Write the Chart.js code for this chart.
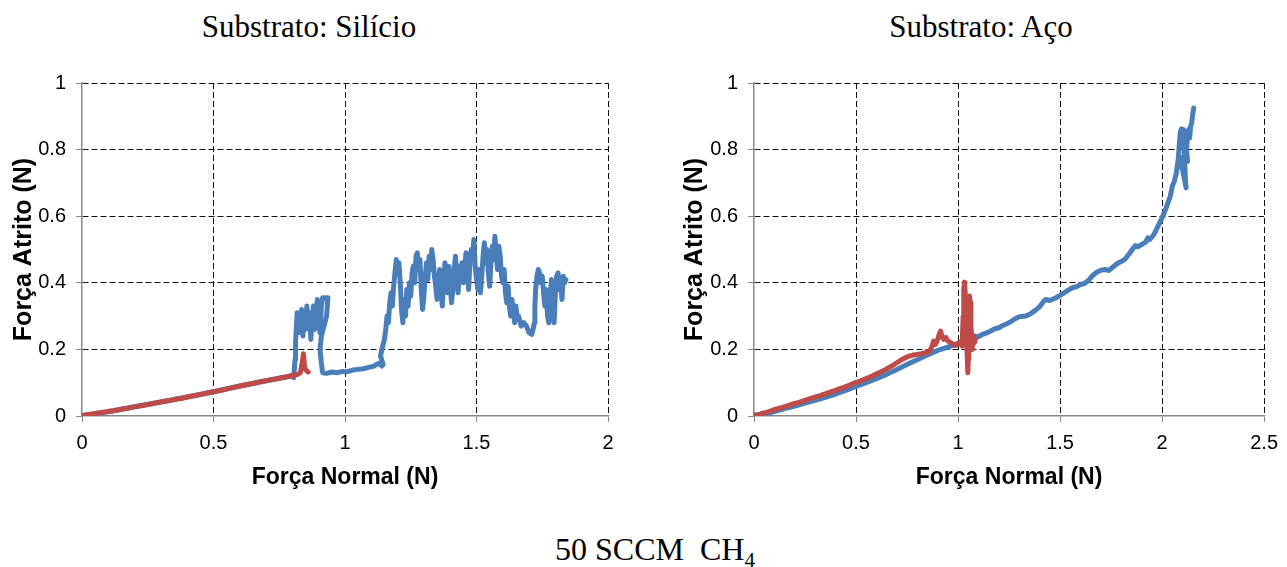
<!DOCTYPE html>
<html lang="pt">
<head>
<meta charset="utf-8">
<title>Força de atrito x força normal</title>
<script src="https://cdn.jsdelivr.net/npm/chart.js@4"></script>
<style>
  html, body { margin: 0; padding: 0; background: #fff; }
  body { width: 1287px; height: 567px; position: relative; overflow: hidden; }
  canvas { position: absolute; top: 0; }
  .titulo { position: absolute; width: 400px; text-align: center; font: 31px "Liberation Serif", "Times New Roman", serif; line-height: 31px; color: #000; white-space: nowrap; }
  .titulo sub { font-size: 21px; line-height: 0; vertical-align: -7px; }
</style>
</head>
<body>
<div class="titulo" style="left:109px; top:11px">Substrato: Silício</div>
<div class="titulo" style="left:781px; top:11px">Substrato: Aço</div>
<canvas id="graficoSilicio" width="640" height="500" style="left:0"></canvas>
<canvas id="graficoAco" width="647" height="500" style="left:640px"></canvas>
<div class="titulo" style="left:455px; top:534px; font-size:32px">50 SCCM &nbsp;CH<sub>4</sub></div>
<script>
// Substrato: Silício
const silicioVermelhoX = [0, 0.02, 0.04, 0.06, 0.08, 0.10, 0.12, 0.14, 0.16, 0.18, 0.20, 0.22, 0.24, 0.26, 0.28, 0.30, 0.32, 0.34, 0.36, 0.38, 0.40, 0.42, 0.44, 0.46, 0.48, 0.50, 0.52, 0.54, 0.56, 0.58, 0.60, 0.62, 0.64, 0.66, 0.68, 0.70, 0.72, 0.74, 0.76, 0.78, 0.80, 0.82, 0.83, 0.835, 0.84, 0.842, 0.846, 0.85, 0.855, 0.86];
const silicioVermelhoY = [0.001, 0.004, 0.006, 0.009, 0.011, 0.014, 0.016, 0.019, 0.022, 0.024, 0.028, 0.030, 0.033, 0.036, 0.039, 0.042, 0.045, 0.047, 0.051, 0.053, 0.057, 0.060, 0.063, 0.066, 0.070, 0.073, 0.076, 0.079, 0.083, 0.086, 0.090, 0.093, 0.096, 0.099, 0.103, 0.106, 0.109, 0.112, 0.115, 0.118, 0.121, 0.125, 0.130, 0.150, 0.175, 0.187, 0.150, 0.140, 0.135, 0.132];

const silicioAzulX = [0, 0.1, 0.2, 0.3, 0.4, 0.5, 0.6, 0.7, 0.78, 0.80, 0.805, 0.81, 0.812, 0.818, 0.825, 0.83, 0.835, 0.84, 0.845, 0.85, 0.855, 0.86, 0.865, 0.87, 0.875, 0.88, 0.885, 0.89, 0.895, 0.90, 0.905, 0.91, 0.915, 0.925, 0.935, 0.93, 0.92, 0.91, 0.905, 0.91, 0.915, 0.93, 0.95, 0.97, 0.99, 1.01, 1.03, 1.05, 1.07, 1.09, 1.11, 1.12, 1.13, 1.14, 1.145, 1.135, 1.14, 1.15, 1.155, 1.16, 1.165, 1.17, 1.175, 1.18, 1.185, 1.19, 1.195, 1.20, 1.205, 1.21, 1.215, 1.22, 1.225, 1.23, 1.235, 1.24, 1.245, 1.25, 1.255, 1.26, 1.265, 1.27, 1.275, 1.28, 1.285, 1.29, 1.295, 1.30, 1.305, 1.31, 1.315, 1.32, 1.325, 1.33, 1.335, 1.34, 1.345, 1.35, 1.355, 1.36, 1.365, 1.37, 1.375, 1.38, 1.385, 1.39, 1.395, 1.40, 1.405, 1.41, 1.415, 1.42, 1.425, 1.43, 1.435, 1.44, 1.445, 1.45, 1.455, 1.46, 1.465, 1.47, 1.475, 1.48, 1.485, 1.49, 1.495, 1.50, 1.505, 1.51, 1.515, 1.52, 1.525, 1.53, 1.535, 1.54, 1.545, 1.55, 1.555, 1.56, 1.565, 1.57, 1.575, 1.58, 1.585, 1.59, 1.595, 1.60, 1.605, 1.61, 1.615, 1.62, 1.625, 1.63, 1.635, 1.64, 1.645, 1.65, 1.655, 1.66, 1.67, 1.68, 1.69, 1.70, 1.71, 1.715, 1.72, 1.722, 1.725, 1.73, 1.735, 1.74, 1.745, 1.75, 1.755, 1.76, 1.765, 1.77, 1.775, 1.78, 1.785, 1.79, 1.795, 1.80, 1.805, 1.81, 1.815, 1.82, 1.825, 1.83, 1.835, 1.84];
const silicioAzulY = [0.001, 0.013, 0.028, 0.042, 0.057, 0.073, 0.090, 0.106, 0.118, 0.122, 0.115, 0.17, 0.22, 0.31, 0.30, 0.25, 0.32, 0.24, 0.30, 0.26, 0.33, 0.27, 0.31, 0.23, 0.29, 0.33, 0.26, 0.31, 0.35, 0.29, 0.25, 0.33, 0.355, 0.355, 0.355, 0.30, 0.27, 0.24, 0.20, 0.16, 0.13, 0.128, 0.132, 0.130, 0.134, 0.133, 0.138, 0.140, 0.142, 0.146, 0.150, 0.155, 0.158, 0.150, 0.155, 0.18, 0.20, 0.23, 0.26, 0.30, 0.28, 0.34, 0.37, 0.33, 0.39, 0.43, 0.47, 0.44, 0.46, 0.40, 0.32, 0.28, 0.35, 0.30, 0.38, 0.33, 0.40, 0.36, 0.43, 0.45, 0.40, 0.48, 0.49, 0.44, 0.47, 0.38, 0.32, 0.36, 0.42, 0.46, 0.41, 0.48, 0.44, 0.50, 0.47, 0.42, 0.39, 0.35, 0.40, 0.44, 0.38, 0.33, 0.40, 0.46, 0.42, 0.37, 0.45, 0.40, 0.34, 0.38, 0.44, 0.48, 0.42, 0.37, 0.45, 0.41, 0.46, 0.40, 0.44, 0.49, 0.43, 0.38, 0.46, 0.50, 0.47, 0.53, 0.45, 0.41, 0.38, 0.44, 0.37, 0.42, 0.48, 0.52, 0.46, 0.50, 0.43, 0.39, 0.46, 0.51, 0.47, 0.54, 0.49, 0.44, 0.51, 0.48, 0.42, 0.40, 0.44, 0.37, 0.34, 0.39, 0.33, 0.30, 0.35, 0.31, 0.28, 0.33, 0.29, 0.30, 0.27, 0.28, 0.27, 0.25, 0.245, 0.26, 0.28, 0.33, 0.38, 0.42, 0.44, 0.43, 0.40, 0.42, 0.37, 0.33, 0.38, 0.30, 0.28, 0.36, 0.41, 0.30, 0.28, 0.37, 0.42, 0.43, 0.38, 0.40, 0.35, 0.42, 0.40, 0.41];

// Substrato: Aço
const acoVermelhoX = [0, 0.02, 0.04, 0.06, 0.08, 0.10, 0.12, 0.14, 0.16, 0.18, 0.20, 0.22, 0.24, 0.26, 0.28, 0.30, 0.32, 0.34, 0.36, 0.38, 0.40, 0.42, 0.44, 0.46, 0.48, 0.50, 0.52, 0.54, 0.56, 0.58, 0.60, 0.62, 0.64, 0.66, 0.68, 0.70, 0.72, 0.74, 0.76, 0.78, 0.80, 0.82, 0.84, 0.86, 0.87, 0.88, 0.89, 0.90, 0.91, 0.915, 0.92, 0.93, 0.94, 0.95, 0.96, 0.97, 0.98, 0.99, 1.00, 1.01, 1.02, 1.025, 1.028, 1.032, 1.036, 1.04, 1.042, 1.045, 1.048, 1.05, 1.053, 1.056, 1.06, 1.063, 1.067, 1.07, 1.075, 1.08, 1.085];
const acoVermelhoY = [0.003, 0.002, 0.008, 0.010, 0.015, 0.019, 0.023, 0.026, 0.030, 0.034, 0.038, 0.041, 0.045, 0.049, 0.053, 0.057, 0.060, 0.065, 0.069, 0.073, 0.077, 0.082, 0.086, 0.091, 0.096, 0.101, 0.105, 0.110, 0.115, 0.120, 0.126, 0.132, 0.138, 0.145, 0.152, 0.160, 0.168, 0.174, 0.180, 0.183, 0.185, 0.187, 0.190, 0.195, 0.205, 0.225, 0.215, 0.230, 0.250, 0.255, 0.240, 0.230, 0.236, 0.225, 0.222, 0.218, 0.215, 0.212, 0.218, 0.222, 0.210, 0.300, 0.380, 0.402, 0.360, 0.290, 0.220, 0.180, 0.130, 0.170, 0.300, 0.360, 0.340, 0.270, 0.240, 0.200, 0.240, 0.220, 0.230];

const acoAzulX = [0, 0.05, 0.10, 0.15, 0.20, 0.25, 0.30, 0.35, 0.40, 0.45, 0.50, 0.55, 0.60, 0.65, 0.70, 0.75, 0.80, 0.85, 0.90, 0.95, 1.00, 1.03, 1.06, 1.08, 1.10, 1.12, 1.15, 1.18, 1.20, 1.22, 1.25, 1.28, 1.30, 1.33, 1.35, 1.38, 1.40, 1.42, 1.43, 1.45, 1.48, 1.50, 1.52, 1.54, 1.56, 1.58, 1.60, 1.62, 1.64, 1.66, 1.68, 1.70, 1.72, 1.74, 1.76, 1.78, 1.80, 1.82, 1.84, 1.86, 1.87, 1.88, 1.90, 1.92, 1.93, 1.94, 1.96, 1.98, 2.00, 2.02, 2.04, 2.05, 2.06, 2.07, 2.08, 2.085, 2.09, 2.095, 2.10, 2.105, 2.11, 2.115, 2.118, 2.10, 2.09, 2.105, 2.125, 2.12, 2.125, 2.13, 2.135, 2.14, 2.145, 2.15, 2.155];
const acoAzulY = [0.002, 0.005, 0.013, 0.022, 0.030, 0.039, 0.047, 0.056, 0.066, 0.077, 0.089, 0.100, 0.112, 0.125, 0.140, 0.155, 0.169, 0.183, 0.197, 0.207, 0.218, 0.225, 0.232, 0.240, 0.238, 0.245, 0.252, 0.262, 0.265, 0.272, 0.280, 0.292, 0.298, 0.300, 0.305, 0.318, 0.328, 0.345, 0.350, 0.347, 0.355, 0.362, 0.370, 0.378, 0.385, 0.388, 0.395, 0.398, 0.408, 0.422, 0.432, 0.438, 0.440, 0.437, 0.448, 0.458, 0.464, 0.472, 0.488, 0.505, 0.512, 0.508, 0.515, 0.522, 0.535, 0.530, 0.545, 0.570, 0.595, 0.625, 0.660, 0.690, 0.705, 0.730, 0.775, 0.820, 0.855, 0.862, 0.810, 0.860, 0.780, 0.700, 0.685, 0.740, 0.760, 0.780, 0.765, 0.800, 0.840, 0.860, 0.835, 0.870, 0.880, 0.905, 0.925];

const ticksY = [0, 0.2, 0.4, 0.6, 0.8, 1];
const ticksXSilicio = [0, 0.5, 1, 1.5, 2];
const ticksXAco = [0, 0.5, 1, 1.5, 2, 2.5];

const AZUL = '#4a7ebb';
const VERMELHO = '#be4b48';

Chart.defaults.font.family = '"Liberation Sans", Arial, sans-serif';
Chart.defaults.color = '#000';

function pontos(xs, ys) {
  return xs.map((x, i) => ({ x: x, y: ys[i] }));
}

function serie(xs, ys, cor) {
  return {
    data: pontos(xs, ys),
    showLine: true,
    borderColor: cor,
    backgroundColor: cor,
    borderWidth: 5,
    borderJoinStyle: 'round',
    borderCapStyle: 'round',
    pointRadius: 0,
    tension: 0
  };
}

// linhas de grade tracejadas pretas; a de valor 0 fica por conta do eixo cinza
function grade() {
  return {
    color: c => (c.tick && c.tick.value === 0) ? 'rgba(0,0,0,0)' : '#111',
    lineWidth: 1,
    tickColor: '#888',
    tickBorderDash: [],
    tickLength: 6,
    drawTicks: true
  };
}

function borda() {
  return { display: true, color: '#888', width: 1.5, dash: [6, 3] };
}

function rotulo(v) {
  return String(+Number(v).toFixed(1));
}

function desenha(id, vermelho, azul, ticksX, cfg) {
  const xMax = ticksX[ticksX.length - 1];
  new Chart(document.getElementById(id), {
    type: 'scatter',
    data: {
      // vermelho primeiro para ficar por cima do azul
      datasets: [serie(vermelho[0], vermelho[1], VERMELHO), serie(azul[0], azul[1], AZUL)]
    },
    options: {
      responsive: false,
      animation: false,
      devicePixelRatio: 1,
      layout: { padding: { top: 83, right: cfg.right, bottom: 0, left: cfg.left } },
      plugins: { legend: { display: false }, tooltip: { enabled: false } },
      scales: {
        x: {
          type: 'linear',
          min: 0,
          max: xMax,
          afterBuildTicks: s => { s.ticks = ticksX.map(v => ({ value: v })); },
          afterFit: s => { s.height = 84; },
          grid: grade(),
          border: borda(),
          ticks: { font: { size: 20 }, padding: 9, callback: rotulo },
          title: {
            display: true,
            text: 'Força Normal (N)',
            font: { size: 23, weight: 'bold' },
            padding: { top: 0, bottom: 9 }
          }
        },
        y: {
          type: 'linear',
          min: 0,
          max: 1,
          afterBuildTicks: s => { s.ticks = ticksY.map(v => ({ value: v })); },
          afterFit: s => { s.width = cfg.yWidth; },
          grid: grade(),
          border: borda(),
          ticks: { font: { size: 20 }, padding: 10, callback: rotulo },
          title: {
            display: true,
            text: 'Força Atrito (N)',
            font: { size: 25, weight: 'bold' },
            padding: { top: cfg.titlePad, bottom: 0 }
          }
        }
      }
    }
  });
}

desenha('graficoSilicio', [silicioVermelhoX, silicioVermelhoY], [silicioAzulX, silicioAzulY], ticksXSilicio,
  { left: 0, right: 32, yWidth: 82, titlePad: 9 });
desenha('graficoAco', [acoVermelhoX, acoVermelhoY], [acoAzulX, acoAzulY], ticksXAco,
  { left: 27, right: 17, yWidth: 87, titlePad: 13 });
</script>
</body>
</html>
